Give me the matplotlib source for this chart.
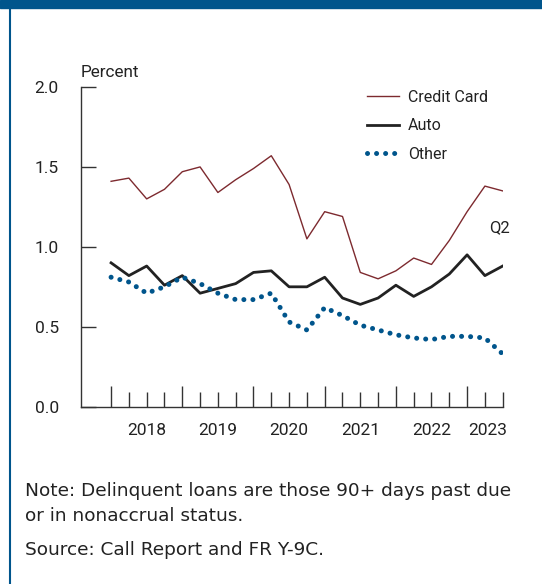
import matplotlib
matplotlib.use('Agg')
import matplotlib.pyplot as plt
import matplotlib.transforms as mtransforms
import numpy as np

# quarterly data, 2017:Q4 - 2023:Q2
quarters = ['2017Q4',
            '2018Q1', '2018Q2', '2018Q3', '2018Q4',
            '2019Q1', '2019Q2', '2019Q3', '2019Q4',
            '2020Q1', '2020Q2', '2020Q3', '2020Q4',
            '2021Q1', '2021Q2', '2021Q3', '2021Q4',
            '2022Q1', '2022Q2', '2022Q3', '2022Q4',
            '2023Q1', '2023Q2']
credit_card = [1.41, 1.43, 1.30, 1.36, 1.47, 1.50, 1.34, 1.42, 1.49, 1.57, 1.39, 1.05,
               1.22, 1.19, 0.84, 0.80, 0.85, 0.93, 0.89, 1.04, 1.22, 1.38, 1.35]
auto = [0.90, 0.82, 0.88, 0.76, 0.82, 0.71, 0.74, 0.77, 0.84, 0.85, 0.75, 0.75,
        0.81, 0.68, 0.64, 0.68, 0.76, 0.69, 0.75, 0.83, 0.95, 0.82, 0.88]
other = [0.81, 0.78, 0.71, 0.75, 0.81, 0.77, 0.71, 0.67, 0.67, 0.71, 0.53, 0.48,
         0.62, 0.57, 0.51, 0.48, 0.45, 0.43, 0.42, 0.44, 0.44, 0.43, 0.33]
year_labels = ['2018', '2019', '2020', '2021', '2022', '2023']
year_label_pos = [2, 6, 10, 14, 18, 21.15]

BLUE = '#00558c'
RED = '#7d2a2f'
FONT = ['Roboto', 'DejaVu Sans']
TXT = '#222222'

x = np.arange(len(quarters))

fig = plt.figure(figsize=(5.42, 5.84), dpi=100)
ax = fig.add_axes([81 / 542, 1 - 406.7 / 584, (502.7 - 81) / 542, (406.7 - 87) / 584])

ax.plot(x, credit_card, color=RED, lw=1.0, label='Credit Card')
ax.plot(x, auto, color=TXT, lw=2.0, label='Auto')
ax.plot(x, other, color=BLUE, lw=3.6, linestyle=(0, (0.01, 1.8)),
        dash_capstyle='round', label='Other')

ax.set_xlim(-1.69, 22)
ax.set_ylim(0, 2.0)
for s in ['top', 'right']:
    ax.spines[s].set_visible(False)
for s in ['left', 'bottom']:
    ax.spines[s].set_color('#333333')
    ax.spines[s].set_linewidth(1.0)

ax.set_yticks([0, 0.5, 1.0, 1.5, 2.0])
ax.set_yticklabels(['0.0', '0.5', '1.0', '1.5', '2.0'], family=FONT, fontsize=12.5, color=TXT)
ax.tick_params(axis='y', direction='in', length=11, width=1.0, color='#333333', pad=16)

ax.set_xticks(x[::4])
ax.set_xticks(x, minor=True)
ax.set_xticklabels([])
ax.tick_params(axis='x', which='major', direction='in', length=15, width=1.0, color='#333333')
ax.tick_params(axis='x', which='minor', direction='in', length=11, width=1.0, color='#333333')

trans = mtransforms.blended_transform_factory(ax.transData, ax.transAxes)
for lab, pos in zip(year_labels, year_label_pos):
    ax.text(pos, -0.073, lab, transform=trans, ha='center', va='center',
            family=FONT, fontsize=12.5, color=TXT)

ax.text(0.0, 1.044, 'Percent', transform=ax.transAxes, ha='left', va='center',
        family=FONT, fontsize=12.3, color=TXT)
ax.text(21.8, 1.12, 'Q2', ha='center', va='center', family=FONT, fontsize=12, color=TXT)

leg = ax.legend(loc='upper left', bbox_to_anchor=(0.645, 1.037), frameon=False,
                handlelength=1.95, handletextpad=0.6, labelspacing=0.85,
                prop={'family': FONT, 'size': 11.5})
for t in leg.get_texts():
    t.set_color(TXT)

# frame decoration
fig.patches.append(plt.Rectangle((0, 1 - 8 / 584), 1, 8 / 584, transform=fig.transFigure,
                                 color=BLUE, zorder=0))
fig.lines.append(plt.Line2D([10 / 542, 10 / 542], [0, 1 - 8 / 584], transform=fig.transFigure,
                            color=BLUE, lw=1.5))

fig.text(25 / 542, 1 - 491.5 / 584, 'Note: Delinquent loans are those 90+ days past due',
         family='DejaVu Sans', fontsize=13.3, color=TXT, va='center')
fig.text(25 / 542, 1 - 516 / 584, 'or in nonaccrual status.',
         family='DejaVu Sans', fontsize=13.3, color=TXT, va='center')
fig.text(25 / 542, 1 - 550 / 584, 'Source: Call Report and FR Y-9C.',
         family='DejaVu Sans', fontsize=13.3, color=TXT, va='center')

fig.savefig('out.png', dpi=100)
